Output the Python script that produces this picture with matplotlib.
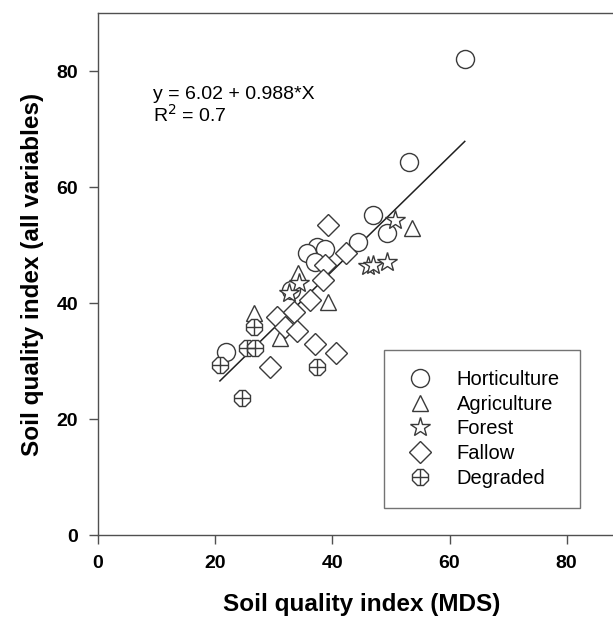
import matplotlib
matplotlib.use("Agg")
import matplotlib.pyplot as plt
from matplotlib.lines import Line2D
from matplotlib.legend_handler import HandlerTuple

plt.rcParams['font.family'] = ['Liberation Sans', 'DejaVu Sans']

# ---- data ----
hort_x = [62.6, 53.1, 46.9, 49.3, 44.3, 37.3, 38.7, 35.6, 37.0, 33.0, 21.9]
hort_y = [82.1, 64.3, 55.2, 52.1, 50.6, 49.7, 49.4, 48.6, 47.1, 42.2, 31.6]

agri_x = [53.6, 34.2, 39.3, 26.7, 31.1]
agri_y = [52.9, 45.1, 40.2, 38.2, 33.9]

forest_x = [50.7, 46.1, 47.0, 49.3, 34.3, 32.6]
forest_y = [54.3, 46.3, 46.6, 47.1, 43.4, 41.8]

fallow_x = [39.3, 38.7, 38.4, 42.4, 36.2, 30.5, 33.4, 31.9, 33.9, 29.4, 37.0, 40.7]
fallow_y = [53.4, 46.6, 44.0, 48.6, 40.5, 37.6, 38.5, 35.9, 35.1, 29.0, 33.0, 31.3]

degr_x = [26.7, 25.4, 26.8, 20.8, 37.4, 24.5]
degr_y = [35.9, 32.2, 32.2, 29.3, 28.9, 23.6]

fit_intercept = 6.02
fit_slope = 0.988
fit_xrange = [20.8, 62.6]

x_ticks = [0, 20, 40, 60, 80]
y_ticks = [0, 20, 40, 60, 80]

# ---- figure ----
fig = plt.figure(figsize=(6.13, 6.24), dpi=100)
ax = fig.add_axes([0.160, 0.1426, 0.86, 0.8365])
ax.set_xlim(0, 90)
ax.set_ylim(0, 90)

ec = '#3a3a3a'
common = dict(linestyle='none', markerfacecolor='white', markeredgecolor=ec, markeredgewidth=1.0)

fit_y = [fit_intercept + fit_slope * v for v in fit_xrange]
ax.plot(fit_xrange, fit_y, color='#202020', lw=1.1, zorder=1)

ax.plot(hort_x, hort_y, marker='o', markersize=13, zorder=3, **common)
ax.plot(agri_x, agri_y, marker='^', markersize=12, zorder=3, **common)
ax.plot(forest_x, forest_y, marker='*', markersize=15, zorder=3, **common)
ax.plot(fallow_x, fallow_y, marker='D', markersize=11, zorder=3, **common)
ax.plot(degr_x, degr_y, marker='8', markersize=12, zorder=3, **common)
ax.plot(degr_x, degr_y, marker='+', markersize=12, linestyle='none',
        markeredgecolor=ec, markeredgewidth=1.0, zorder=4)

ax.text(9.3, 75.9, 'y = 6.02 + 0.988*X', fontsize=14, va='center', ha='left')
ax.text(9.3, 72.4, 'R$^2$ = 0.7', fontsize=14, va='center', ha='left')

for s in ['left', 'bottom', 'top', 'right']:
    ax.spines[s].set_color('#505050')
    ax.spines[s].set_linewidth(1.0)

ax.set_xticks(x_ticks)
ax.set_yticks(y_ticks)
ax.tick_params(direction='out', length=6.5, width=1.0, color='#505050', labelsize=14, pad=8)
for lab in ax.get_xticklabels() + ax.get_yticklabels():
    lab.set_fontweight('bold')

ax.set_xlabel('Soil quality index (MDS)', fontsize=17.5, fontweight='bold', labelpad=15)
ax.set_ylabel('Soil quality index (all variables)', fontsize=17.5, fontweight='bold', labelpad=9)

# legend
h_hort = Line2D([], [], marker='o', markersize=13, **common)
h_agri = Line2D([], [], marker='^', markersize=12, **common)
h_for = Line2D([], [], marker='*', markersize=15, **common)
h_fal = Line2D([], [], marker='D', markersize=11, **common)
h_deg1 = Line2D([], [], marker='8', markersize=12, **common)
h_deg2 = Line2D([], [], marker='+', markersize=12, linestyle='none',
                markeredgecolor=ec, markeredgewidth=1.0)
leg = ax.legend([h_hort, h_agri, h_for, h_fal, (h_deg1, h_deg2)],
                ['Horticulture', 'Agriculture', 'Forest', 'Fallow', 'Degraded'],
                handler_map={tuple: HandlerTuple(ndivide=1)},
                loc='upper left', bbox_to_anchor=(384 / 613, 1 - 350 / 624),
                bbox_transform=fig.transFigure, fontsize=14.5, frameon=True,
                fancybox=False, edgecolor='#505050', borderpad=1.0,
                labelspacing=0.28, handletextpad=1.0, handlelength=1.6,
                borderaxespad=0)
leg.get_frame().set_linewidth(1.0)

fig.savefig('out.png', dpi=100)
